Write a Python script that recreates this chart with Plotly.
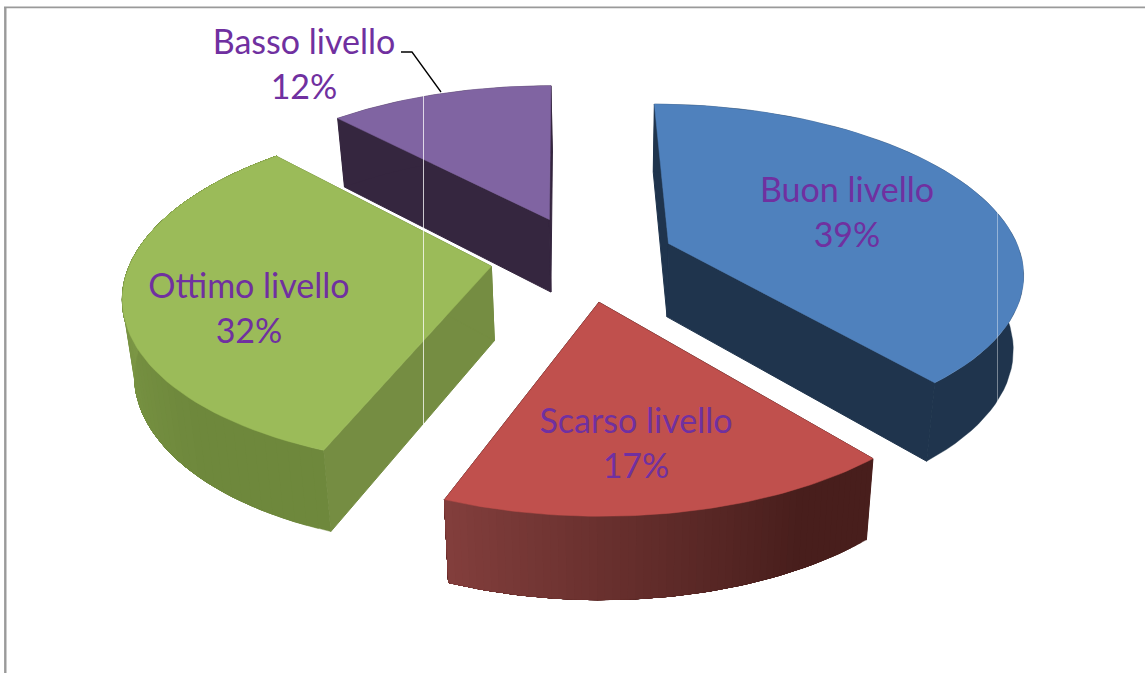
import numpy as np
import plotly.graph_objects as go

# Share of responses per level, clockwise from the top of the pie
labels = ["Buon livello", "Scarso livello", "Ottimo livello", "Basso livello"]
values = [39, 17, 32, 12]
label_x = [847, 636, 249, 304]
label_y = [190, 421, 286, 42]

top_colors = ["#4F81BD", "#C0504D", "#9BBB59", "#8064A2"]
radial_colors = ["#1F344D", "#4A1E1C", "#758D42", "#35263F"]
rim_from = [(31, 52, 77), (72, 30, 28), (110, 136, 60), (53, 38, 63)]
rim_to = [(31, 52, 77), (130, 62, 60), (140, 168, 80), (53, 38, 63)]
text_color = "#7030A0"

# Perspective of the tilted disc
start_deg = -2.4
explode = 0.26
cx, cy = 583, 258
scale_x, scale_y = 356, 165.5
persp = 0.1556
shear = -0.07
tilt = 0.0175
depth = 74
vanish_x = 610
shrink = 0.975


def project(gx, gy):
    w = 1 + persp * gy
    py = cy - scale_y * gy / w
    px = cx + scale_x * gx / w + shear * (py - cy)
    return px, py + tilt * (px - cx), w


def lower(px, py, w):
    return vanish_x + (px - vanish_x) * shrink, py + depth / w ** 0.55


def polygon(fig, xs, ys, color, stroke=1.0):
    fig.add_trace(go.Scatter(x=xs, y=ys, mode="lines", fill="toself", fillcolor=color,
                             line=dict(color=color, width=stroke), hoverinfo="skip", showlegend=False))


def plain_line(fig, xs, ys, color, width):
    fig.add_trace(go.Scatter(x=xs, y=ys, mode="lines", line=dict(color=color, width=width),
                             hoverinfo="skip", showlegend=False))


fig = go.Figure()

# Frame on the left and top edges
plain_line(fig, [5.3, 5.3], [673, 7], "#9A9A9A", 2.4)
plain_line(fig, [4, 1145], [7.4, 7.4], "#9A9A9A", 1.6)

# Slice angles come straight from the shares
edges = start_deg + np.cumsum([0] + values) * 3.6
draw_order = [3, 0, 2, 1]
for i in draw_order:
    a0, a1 = np.radians(edges[i]), np.radians(edges[i + 1])
    mid = (a0 + a1) / 2
    ox, oy = explode * np.sin(mid), explode * np.cos(mid)
    ang = np.linspace(a0, a1, 61)
    ax, ay, aw = project(ox + np.sin(ang), oy + np.cos(ang))
    bx, by = lower(ax, ay, aw)
    px, py, pw = project(ox, oy)
    qx, qy = lower(px, py, pw)

    # Two straight cut faces
    polygon(fig, [px, ax[0], bx[0], qx, px], [py, ay[0], by[0], qy, py], radial_colors[i])
    polygon(fig, [px, ax[-1], bx[-1], qx, px], [py, ay[-1], by[-1], qy, py], radial_colors[i])

    # Rim painted in overlapping bands so the shading has no seams
    steps = 1 if rim_from[i] == rim_to[i] else len(ang) - 1
    for k in range(steps):
        t = max(0.0, (k / max(steps - 1, 1) - 0.2) / 0.8)
        c = [round(u + (v - u) * t) for u, v in zip(rim_from[i], rim_to[i])]
        color = f"rgb({c[0]},{c[1]},{c[2]})"
        polygon(fig, np.r_[ax[k:], bx[k:][::-1]], np.r_[ay[k:], by[k:][::-1]], color, stroke=0.4)

    # Top face
    polygon(fig, np.r_[px, ax, px], np.r_[py, ay, py], top_colors[i], stroke=0.5)

# Thin light rules crossing the slices
plain_line(fig, [423.5, 423.5], [95, 424], "rgba(255,255,255,0.75)", 1)
plain_line(fig, [997.5, 997.5], [208, 407], "rgba(255,255,255,0.4)", 1)

# Leader for the outer label
plain_line(fig, [401, 412, 441], [52, 52, 92], "#000000", 1.3)

# Category name with its percentage underneath
fig.add_trace(go.Scatter(
    x=label_x + label_x,
    y=[v + 3 for v in label_y] + [v + 48 for v in label_y],
    text=labels + [f"{v}%" for v in values],
    mode="text", textposition="middle center",
    textfont=dict(family="Lato", size=34, color=text_color),
    hoverinfo="skip", showlegend=False,
))

fig.update_layout(
    width=1145, height=673, autosize=False,
    margin=dict(l=0, r=0, t=0, b=0),
    paper_bgcolor="white", plot_bgcolor="white",
    xaxis=dict(range=[0, 1145], visible=False, fixedrange=True),
    yaxis=dict(range=[673, 0], visible=False, fixedrange=True),
    showlegend=False,
)
fig.write_html("out.html", config={"displayModeBar": False})
